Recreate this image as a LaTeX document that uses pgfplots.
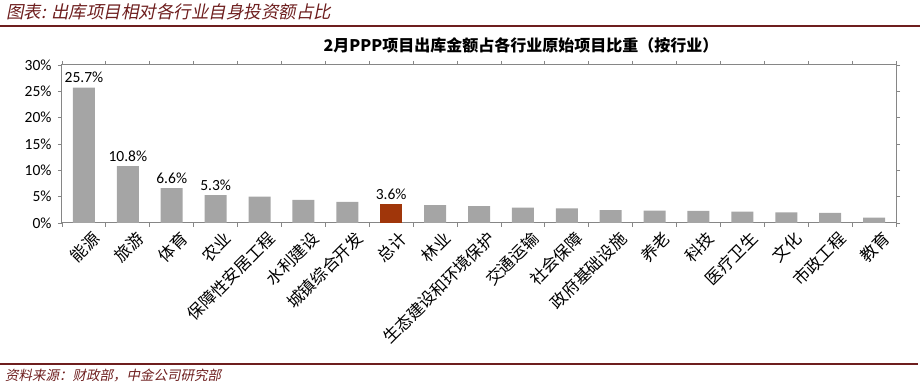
\documentclass[border=0pt]{standalone}
\usepackage{fontspec}
\setmainfont{Carlito}
\newfontfamily\cjk{Noto Sans CJK SC}
\newfontfamily\cjkit{Noto Sans CJK SC}[FakeSlant=0.2]
\usepackage{pgfplots}
\pgfplotsset{compat=1.18}
\definecolor{barg}{HTML}{A5A5A5}
\definecolor{tot}{HTML}{A0360A}
\definecolor{maroon}{HTML}{6E1E1E}
\definecolor{axisg}{HTML}{868686}
\begin{document}
\begin{tikzpicture}[x=1pt,y=1pt]
\useasboundingbox (0,0) rectangle (920,387);
\begin{axis}[at={(62pt,164pt)}, anchor=south west, scale only axis,
  width=834pt, height=158pt,
  xmin=0.5, xmax=19.5, ymin=0, ymax=30,
  ytick={0,5,...,30}, yticklabel={\pgfmathprintnumber{\tick}\%},
  /pgf/number format/assume math mode=true,
  xtick={1,...,19},
  xticklabels={能源,旅游,体育,农业,保障性安居工程,水利建设,城镇综合开发,总计,林业,生态建设和环境保护,交通运输,社会保障,政府基础设施,养老,科技,医疗卫生,文化,市政工程,教育},
  minor xtick={0.5,1.5,...,19.5},
  tick align=outside, major tick length=4pt, minor tick length=4pt,
  major x tick style={draw=none},
  axis line style={axisg, line width=1pt},
  tick style={axisg, line width=0.8pt},
  minor tick style={axisg, line width=0.8pt},
  xticklabel style={font=\cjk\fontsize{16.5}{16.5}\selectfont, rotate=45, anchor=north east, inner sep=1pt, xshift=4pt, yshift=-6pt},
  yticklabel style={font=\fontsize{15.5}{16}\selectfont, xshift=-3pt},
  ybar=0pt, bar width=22pt,
  clip=false,
]
\addplot[bar shift=0pt, fill=barg, draw=none] coordinates {
(1,25.7) (2,10.8) (3,6.6) (4,5.3) (5,5.0) (6,4.4) (7,4.0)
(9,3.4) (10,3.2) (11,2.9) (12,2.8) (13,2.45) (14,2.35) (15,2.3)
(16,2.15) (17,2.0) (18,1.9) (19,1.0)};
\addplot[bar shift=0pt, fill=tot, draw=none] coordinates {(8,3.6)};
\addplot[bar shift=0pt, fill=none, draw=none,
  nodes near coords={\pgfmathprintnumber[fixed,fixed zerofill,precision=1]{\pgfplotspointmeta}\%},
  every node near coord/.append style={font=\fontsize{15.5}{16}\selectfont, text=black, anchor=south, yshift=1pt}]
  coordinates {(1,25.7) (2,10.8) (3,6.6) (4,5.3) (8,3.6)};
\end{axis}
\draw[maroon, line width=1.5pt] (0,361) -- (920,361);
\draw[maroon, line width=1.5pt] (0,23) -- (918,23);
\node[anchor=base west, text=maroon, font=\cjkit\fontsize{17.5}{18}\selectfont, inner sep=0] at (6,368) {图表: 出库项目相对各行业自身投资额占比};
\node[anchor=base west, text=maroon, font=\cjkit\fontsize{13.5}{14}\selectfont, inner sep=0] at (5,6) {资料来源：财政部，中金公司研究部};
\node[font=\cjk\bfseries\fontsize{16}{17}\selectfont] at (521,342) {2月PPP项目出库金额占各行业原始项目比重（按行业）};
\end{tikzpicture}
\end{document}
